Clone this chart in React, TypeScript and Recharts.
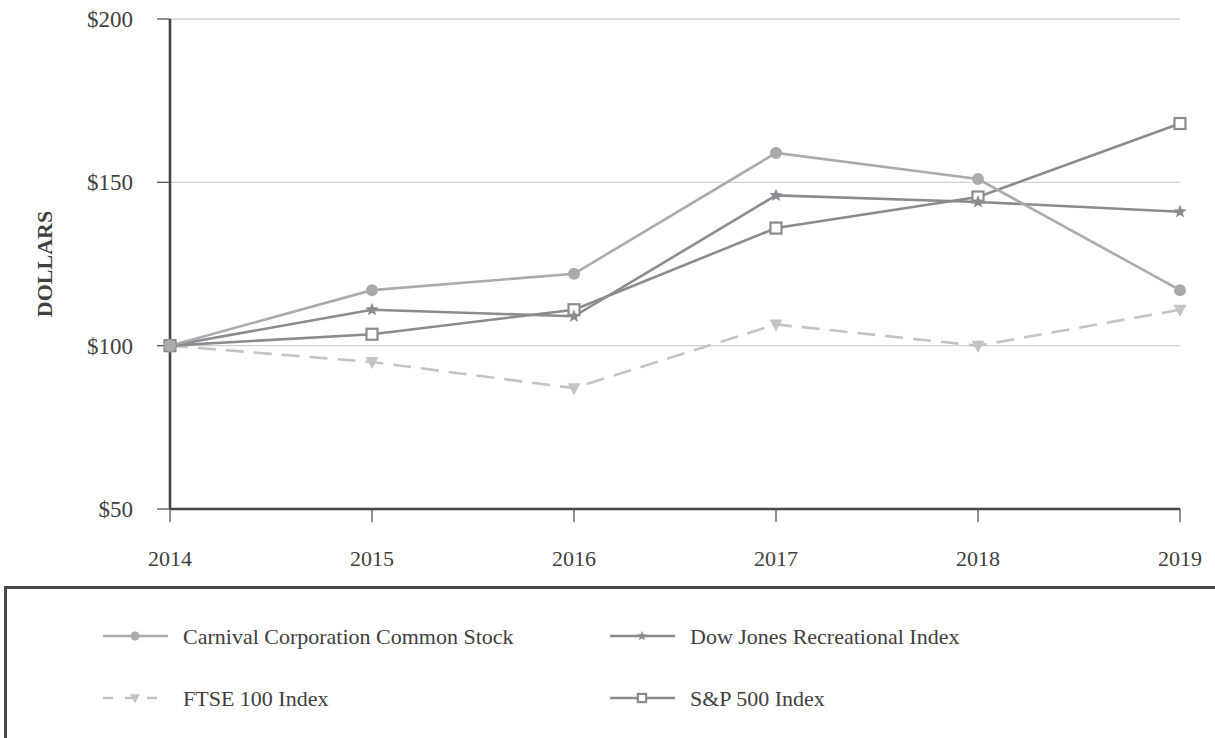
import React from "react";
import { LineChart, Line, XAxis, YAxis, CartesianGrid } from "recharts";

const years = ["2014", "2015", "2016", "2017", "2018", "2019"];
const carnival = [100, 117, 122, 159, 151, 117];
const dowJones = [100, 111, 109, 146, 144, 141];
const ftse = [100, 95, 87, 106.5, 100, 111];
const sp500 = [100, 103.5, 111, 136, 145.5, 168];
const yTicks = [50, 100, 150, 200];

const data = years.map((y, i) => ({
  year: y,
  carnival: carnival[i],
  dowJones: dowJones[i],
  ftse: ftse[i],
  sp500: sp500[i],
}));

const C_CARN = "#ababae";
const C_DOW = "#8b8b8f";
const C_FTSE = "#c3c3c6";
const C_SP = "#8b8b8f";
const FONT = "'Liberation Serif', 'Times New Roman', serif";

const starPoints = (cx: number, cy: number, ro: number, ri: number) => {
  const pts: string[] = [];
  for (let i = 0; i < 10; i++) {
    const r = i % 2 === 0 ? ro : ri;
    const a = -Math.PI / 2 + (i * Math.PI) / 5;
    pts.push(`${cx + r * Math.cos(a)},${cy + r * Math.sin(a)}`);
  }
  return pts.join(" ");
};

const Circle = (cx: number, cy: number, k: any, s = 1) => (
  <circle key={k} cx={cx} cy={cy} r={6 * s} fill={C_CARN} stroke="none" />
);
const Star = (cx: number, cy: number, k: any, s = 1) => (
  <polygon key={k} points={starPoints(cx, cy, 7 * s, 3 * s)} fill={C_DOW} stroke="none" />
);
const Tri = (cx: number, cy: number, k: any, s = 1) => (
  <polygon
    key={k}
    points={`${cx - 6.5 * s},${cy - 5 * s} ${cx + 6.5 * s},${cy - 5 * s} ${cx},${cy + 7 * s}`}
    fill={C_FTSE}
    stroke="none"
  />
);
const Sq = (cx: number, cy: number, k: any, s = 1) => (
  <rect
    key={k}
    x={cx - 5.5 * s}
    y={cy - 5.5 * s}
    width={11 * s}
    height={11 * s}
    fill="#fff"
    stroke={C_SP}
    strokeWidth={2.2}
  />
);

const mk = (fn: any) => (p: any) => fn(p.cx, p.cy, `d${p.index}`);

const legendItems = [
  { name: "Carnival Corporation Common Stock", color: C_CARN, dash: undefined, icon: Circle, x: 103, y: 636 },
  { name: "Dow Jones Recreational Index", color: C_DOW, dash: undefined, icon: Star, x: 610, y: 636 },
  { name: "FTSE 100 Index", color: C_FTSE, dash: "10 12", icon: Tri, x: 103, y: 698 },
  { name: "S&P 500 Index", color: C_SP, dash: undefined, icon: Sq, x: 610, y: 698 },
];

export default function App() {
  return (
    <div
      style={{
        position: "absolute",
        left: 0,
        top: 0,
        width: 1215,
        height: 738,
        overflow: "hidden",
        background: "#fff",
        fontFamily: FONT,
      }}
    >
      <LineChart
        width={1215}
        height={600}
        data={data}
        margin={{ top: 19, right: 35, left: 110, bottom: 51 }}
      >
        <CartesianGrid vertical={false} stroke="#d2d2d2" strokeWidth={1.3} />
        <XAxis
          dataKey="year"
          height={40}
          axisLine={{ stroke: "#444", strokeWidth: 2.6 }}
          tickLine={{ stroke: "#555", strokeWidth: 1.3 }}
          tickSize={13}
          tickMargin={28}
          tick={{ fill: "#404040", fontSize: 22, fontFamily: FONT }}
          interval={0}
        />
        <YAxis
          width={60}
          domain={[50, 200]}
          ticks={yTicks}
          axisLine={{ stroke: "#444", strokeWidth: 2.6 }}
          tickLine={{ stroke: "#555", strokeWidth: 1.3 }}
          tickSize={13}
          tickMargin={24}
          tickFormatter={(v: number) => `$${v}`}
          tick={{ fill: "#404040", fontSize: 23, fontFamily: FONT }}
        />
        <Line
          dataKey="ftse"
          stroke={C_FTSE}
          strokeWidth={2.6}
          strokeDasharray="18 10"
          dot={mk(Tri)}
          activeDot={false}
          isAnimationActive={false}
        />
        <Line
          dataKey="sp500"
          stroke={C_SP}
          strokeWidth={2.6}
          dot={mk(Sq)}
          activeDot={false}
          isAnimationActive={false}
        />
        <Line
          dataKey="dowJones"
          stroke={C_DOW}
          strokeWidth={2.6}
          dot={mk(Star)}
          activeDot={false}
          isAnimationActive={false}
        />
        <Line
          dataKey="carnival"
          stroke={C_CARN}
          strokeWidth={2.6}
          dot={mk(Circle)}
          activeDot={false}
          isAnimationActive={false}
        />
      </LineChart>
      <div
        style={{
          position: "absolute",
          left: 45,
          top: 264,
          transform: "translate(-50%, -50%) rotate(-90deg)",
          fontWeight: "bold",
          fontSize: 22,
          color: "#404040",
          whiteSpace: "nowrap",
        }}
      >
        DOLLARS
      </div>
      <div
        style={{
          position: "absolute",
          left: 4,
          top: 586,
          width: 1240,
          height: 220,
          border: "3px solid #4a4a4a",
          boxSizing: "border-box",
        }}
      />
      <svg
        width={1215}
        height={738}
        style={{ position: "absolute", left: 0, top: 0, pointerEvents: "none" }}
      >
        {legendItems.map((it, i) => (
          <g key={i}>
            <line
              x1={it.x}
              x2={it.x + 65}
              y1={it.y}
              y2={it.y}
              stroke={it.color}
              strokeWidth={2.6}
              strokeDasharray={it.dash}
            />
            {it.icon(it.x + 32, it.y, "ic" + i, 0.75)}
            <text
              x={it.x + 80}
              y={it.y}
              dominantBaseline="central"
              fontSize={22}
              fontFamily={FONT}
              fill="#404040"
            >
              {it.name}
            </text>
          </g>
        ))}
      </svg>
    </div>
  );
}
